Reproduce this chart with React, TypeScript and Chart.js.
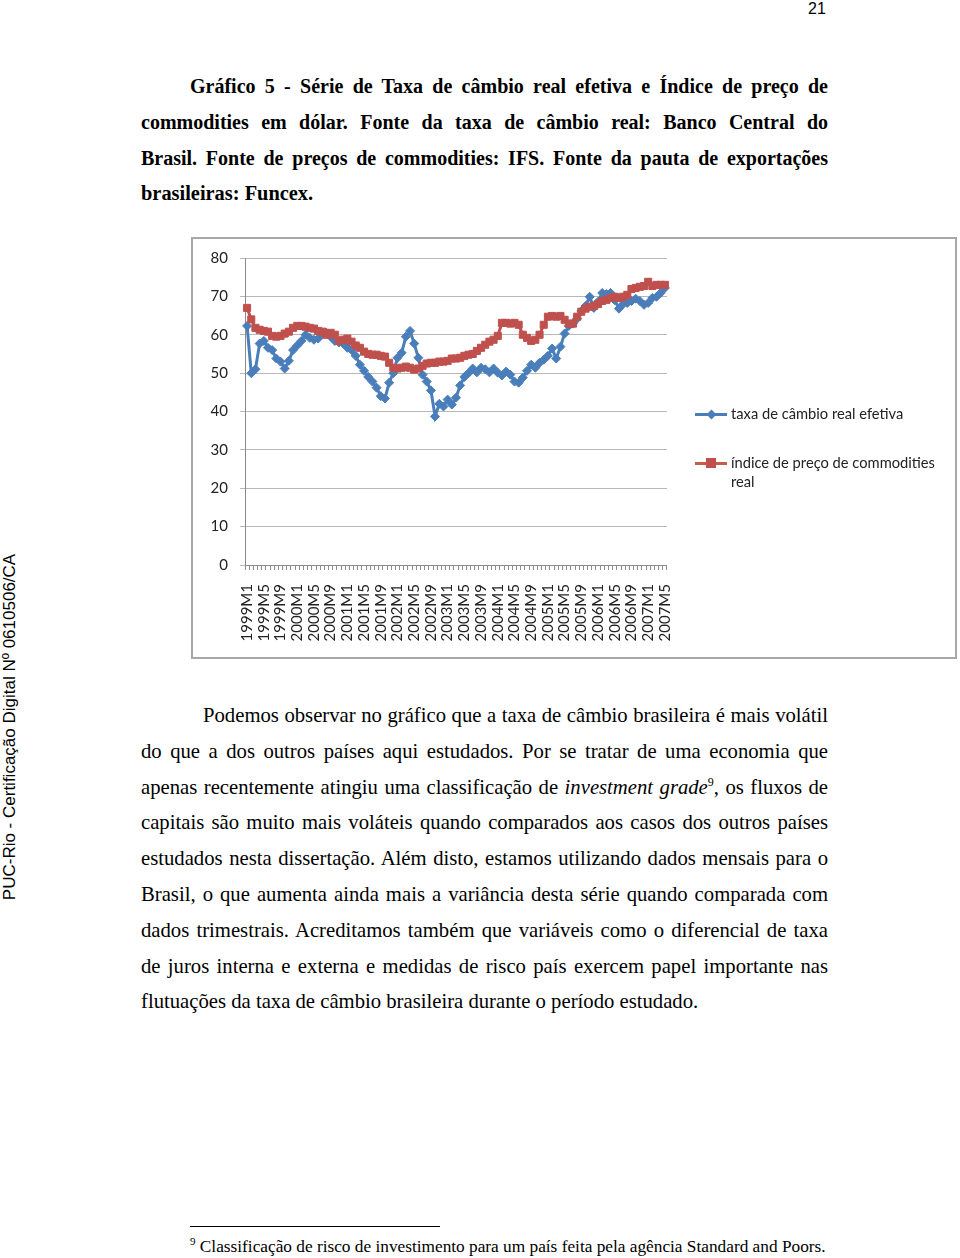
import React, { useEffect, useRef } from "react";
import { Chart, registerables } from "chart.js";

Chart.register(...registerables);

// Categories: monthly, 1999M1 .. 2007M5
const months: string[] = [];
for (let y = 1999; y <= 2007; y++) {
  for (let m = 1; m <= 12; m++) {
    if (y === 2007 && m > 5) break;
    months.push(`${y}M${m}`);
  }
}

const exchangeRate: number[] = [
  62.3, 50.0, 51.0, 57.7, 58.4, 56.6, 56.0, 53.8, 53.0, 51.2,
  53.2, 56.0, 57.2, 58.4, 60.0, 59.2, 58.7, 59.0, 60.3, 60.5,
  59.5, 58.4, 58.0, 57.7, 56.6, 56.0, 54.5, 52.2, 50.6, 49.0,
  47.8, 46.2, 44.0, 43.4, 47.5, 50.0, 54.0, 55.3, 59.5, 61.0,
  57.7, 54.0, 49.6, 47.8, 45.5, 38.7, 42.0, 41.3, 43.1, 41.8,
  43.6, 46.8, 49.0, 50.0, 51.2, 50.2, 51.4, 51.0, 50.2, 51.2,
  50.1, 49.4, 50.4, 49.6, 47.8, 47.5, 48.8, 50.6, 52.2, 51.4,
  52.7, 53.5, 54.5, 56.4, 53.8, 56.9, 60.3, 62.3, 62.9, 64.2,
  66.2, 67.5, 69.9, 67.0, 68.6, 70.9, 70.6, 70.9, 69.0, 66.8,
  68.0, 68.3, 68.8, 69.4, 68.8, 67.8, 68.3, 69.6, 69.9, 70.9,
  72.2,
];

const commodityPrice: number[] = [
  67.0, 64.0, 61.8, 61.3, 61.0, 60.8, 59.7, 59.5, 59.7, 60.3,
  60.8, 61.8, 62.3, 62.3, 62.1, 61.8, 61.6, 61.0, 60.8, 60.0,
  60.5, 60.0, 58.4, 58.7, 59.0, 58.2, 57.2, 56.6, 55.6, 55.0,
  54.8, 54.8, 54.5, 54.3, 52.7, 51.4, 51.2, 51.4, 51.7, 51.4,
  50.9, 51.2, 51.9, 52.5, 52.7, 52.7, 53.0, 53.0, 53.2, 53.8,
  53.8, 54.0, 54.5, 54.8, 55.0, 55.8, 56.6, 57.4, 58.2, 58.7,
  59.7, 63.1, 63.1, 62.9, 63.1, 62.6, 60.0, 59.2, 58.4, 58.7,
  60.0, 62.6, 64.7, 64.9, 64.7, 64.9, 63.9, 62.9, 62.9, 64.7,
  66.0, 66.8, 67.3, 67.5, 68.0, 68.8, 69.1, 69.6, 69.9, 69.6,
  69.9, 70.4, 71.9, 72.2, 72.5, 72.7, 73.8, 72.7, 73.0, 73.0,
  73.0,
];

const yMin = 0;
const yMax = 80;
const yStep = 10;

const seriesNames = ["taxa de câmbio real efetiva", "índice de preço de commodities real"];

const BLUE = "#4A7EBB";
const RED = "#C0504D";
const CHART_FONT = "Lato, 'Open Sans', sans-serif";

function ChartCanvas() {
  const ref = useRef<HTMLCanvasElement | null>(null);
  useEffect(() => {
    if (!ref.current) return;
    const chart = new Chart(ref.current, {
      type: "line",
      data: {
        labels: months,
        datasets: [
          {
            label: seriesNames[0],
            data: exchangeRate,
            borderColor: BLUE,
            backgroundColor: BLUE,
            borderWidth: 3,
            pointStyle: "rectRot",
            pointRadius: 4.5,
            pointBorderWidth: 1,
            tension: 0,
            order: 2,
          },
          {
            label: seriesNames[1],
            data: commodityPrice,
            borderColor: RED,
            backgroundColor: RED,
            borderWidth: 3,
            pointStyle: "rect",
            pointRadius: 5,
            pointBorderWidth: 1,
            tension: 0,
            order: 1,
          },
        ],
      },
      options: {
        animation: false,
        responsive: false,
        devicePixelRatio: 1,
        layout: { padding: { top: 14, right: 22, left: 0, bottom: 0 } },
        plugins: { legend: { display: false }, tooltip: { enabled: false } },
        scales: {
          x: {
            offset: true,
            grid: {
              display: true,
              drawOnChartArea: false,
              drawTicks: true,
              tickLength: 5,
              color: "#8c8c8c",
              offset: true,
            },
            border: { color: "#8c8c8c" },
            ticks: {
              autoSkip: false,
              maxRotation: 90,
              minRotation: 90,
              padding: 14,
              color: "#222",
              font: { family: CHART_FONT, size: 15 },
              callback: (_v: any, i: number) => (i % 4 === 0 ? months[i] : ""),
            },
            afterFit: (s: any) => {
              s.height = 92;
            },
          },
          y: {
            min: yMin,
            max: yMax,
            ticks: {
              stepSize: yStep,
              padding: 12,
              color: "#222",
              font: { family: CHART_FONT, size: 15 },
            },
            grid: { color: "#b8b8b8", tickLength: 5 },
            border: { color: "#8c8c8c" },
            afterFit: (s: any) => {
              s.width = 52;
            },
          },
        },
      },
    });
    return () => chart.destroy();
  }, []);
  return (
    <canvas
      ref={ref}
      width={504}
      height={420}
      style={{ position: "absolute", left: 193, top: 237, width: 504, height: 420 }}
    />
  );
}

const serif = "'Liberation Serif', 'Times New Roman', serif";

function Line({
  text,
  left,
  width,
  cy,
  bold,
  justify = true,
  size = 20.7,
}: {
  text: React.ReactNode;
  left: number;
  width?: number;
  cy: number;
  bold?: boolean;
  justify?: boolean;
  size?: number;
}) {
  return (
    <div
      style={{
        position: "absolute",
        left,
        top: cy - 18,
        width,
        height: 36,
        lineHeight: "36px",
        fontFamily: serif,
        fontSize: size,
        fontWeight: bold ? 700 : 400,
        color: "#000",
        whiteSpace: "nowrap",
        textAlign: justify ? "justify" : "left",
        textAlignLast: justify ? "justify" : "left",
      } as React.CSSProperties}
    >
      {text}
    </div>
  );
}

const captionLines = [
  "Gráfico 5 - Série de Taxa de câmbio real efetiva e Índice de preço de",
  "commodities em dólar. Fonte da taxa de câmbio real: Banco Central do",
  "Brasil. Fonte de preços de commodities: IFS. Fonte da pauta de exportações",
  "brasileiras: Funcex.",
];

export default function App() {
  const legendText: React.CSSProperties = {
    position: "absolute",
    left: 731,
    fontFamily: CHART_FONT,
    fontSize: 14.7,
    color: "#222",
    lineHeight: "19px",
    height: 19,
    whiteSpace: "nowrap",
  };
  return (
    <div
      style={{
        position: "absolute",
        left: 0,
        top: 0,
        width: 960,
        height: 1258,
        background: "#fff",
        overflow: "hidden",
      }}
    >
      {/* page number */}
      <div
        style={{
          position: "absolute",
          left: 808,
          top: 0,
          height: 18,
          lineHeight: "18px",
          fontFamily: "'Liberation Sans', Arial, sans-serif",
          fontSize: 16,
        }}
      >
        21
      </div>

      {/* side text */}
      <div
        style={{
          position: "absolute",
          left: 10 - 190,
          top: 727 - 10,
          width: 380,
          height: 20,
          lineHeight: "20px",
          textAlign: "center",
          fontFamily: "'Liberation Sans', Arial, sans-serif",
          fontSize: 17,
          color: "#000",
          transform: "rotate(-90deg)",
          transformOrigin: "50% 50%",
          whiteSpace: "nowrap",
        }}
      >
        PUC-Rio - Certificação Digital Nº 0610506/CA
      </div>

      {/* caption */}
      <Line text={captionLines[0]} left={190} width={638} cy={86} bold size={20} />
      <Line text={captionLines[1]} left={141} width={687} cy={122} bold size={20} />
      <Line text={captionLines[2]} left={141} width={687} cy={158} bold size={20} />
      <Line text={captionLines[3]} left={141} cy={193} bold justify={false} size={20.4} />

      {/* chart box */}
      <div
        style={{
          position: "absolute",
          left: 191,
          top: 237,
          width: 762,
          height: 418,
          border: "2px solid #a8a8a8",
          background: "#fff",
        }}
      />
      <ChartCanvas />

      {/* legend */}
      <div style={{ position: "absolute", left: 695, top: 413, width: 32, height: 3, background: BLUE }} />
      <div
        style={{
          position: "absolute",
          left: 707.5,
          top: 411,
          width: 7,
          height: 7,
          background: BLUE,
          transform: "rotate(45deg)",
        }}
      />
      <div style={{ ...legendText, top: 414 - 10 }}>{seriesNames[0]}</div>

      <div style={{ position: "absolute", left: 695, top: 462, width: 32, height: 3, background: "#c0604a" }} />
      <div style={{ position: "absolute", left: 706, top: 458, width: 10, height: 10, background: RED }} />
      <div style={{ ...legendText, top: 463 - 10 }}>índice de preço de commodities</div>
      <div style={{ ...legendText, top: 482 - 10 }}>real</div>

      {/* paragraph */}
      <Line text="Podemos observar no gráfico que a taxa de câmbio brasileira é mais volátil" left={203} width={625} cy={715} />
      <Line text="do que a dos outros países aqui estudados. Por se tratar de uma economia que" left={141} width={687} cy={751} />
      <Line
        text={
          <>
            apenas recentemente atingiu uma classificação de <i>investment grade</i>
            <sup style={{ fontSize: 12, lineHeight: 0 }}>9</sup>, os fluxos de
          </>
        }
        left={141}
        width={687}
        cy={787}
      />
      <Line text="capitais são muito mais voláteis quando comparados aos casos dos outros países" left={141} width={687} cy={822} />
      <Line text="estudados nesta dissertação. Além disto, estamos utilizando dados mensais para o" left={141} width={687} cy={858} />
      <Line text="Brasil, o que aumenta ainda mais a variância desta série quando comparada com" left={141} width={687} cy={894} />
      <Line text="dados trimestrais. Acreditamos também que variáveis como o diferencial de taxa" left={141} width={687} cy={930} />
      <Line text="de juros interna e externa e medidas de risco país exercem papel importante nas" left={141} width={687} cy={966} />
      <Line text="flutuações da taxa de câmbio brasileira durante o período estudado." left={141} cy={1001} justify={false} />

      {/* footnote */}
      <div style={{ position: "absolute", left: 190, top: 1226, width: 250, height: 1, background: "#000" }} />
      <div
        style={{
          position: "absolute",
          left: 190,
          top: 1237,
          height: 20,
          lineHeight: "20px",
          fontFamily: serif,
          fontSize: 17.3,
          whiteSpace: "nowrap",
        }}
      >
        <sup style={{ fontSize: 11, lineHeight: 0 }}>9</sup> Classificação de risco de investimento para um país feita pela agência Standard and Poors.
      </div>
    </div>
  );
}
